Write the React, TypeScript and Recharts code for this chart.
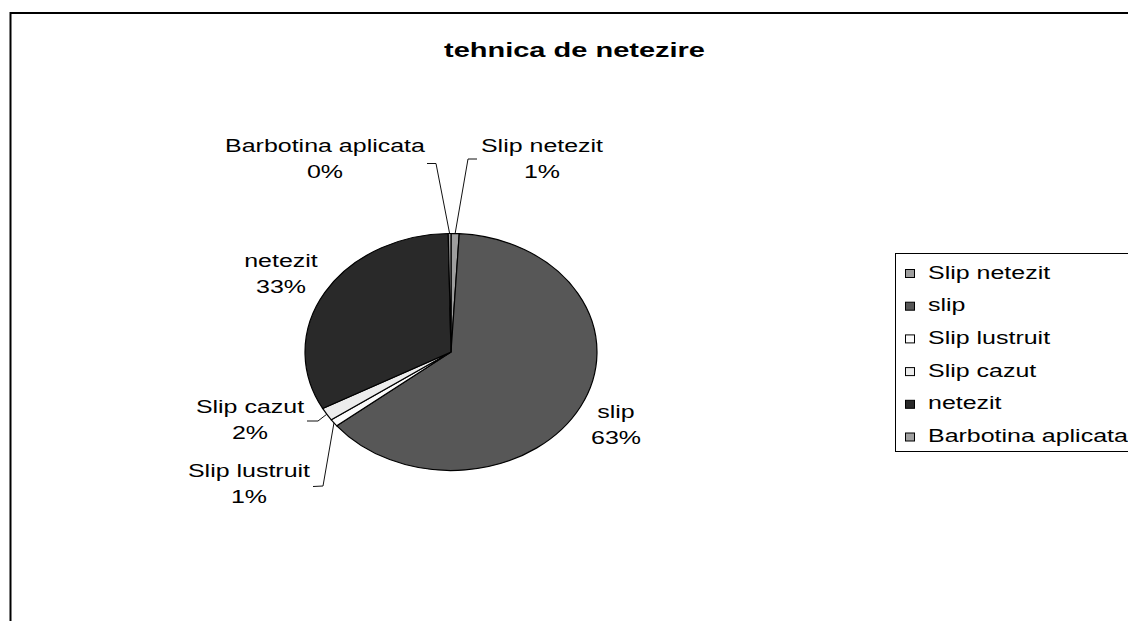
import React from 'react';
import { PieChart, Pie, Cell, Legend } from 'recharts';

// ---- data ----
const categories = ['Slip netezit', 'slip', 'Slip lustruit', 'Slip cazut', 'netezit', 'Barbotina aplicata'];
const shares = [0.9, 63.4, 1.0, 1.8, 32.6, 0.3];
const colors = ['#9e9e9e', '#575757', '#fbfbfb', '#ececec', '#292929', '#a0a0a0'];
const title = 'tehnica de netezire';

const data = categories.map((name, i) => ({ name, value: shares[i] }));

// ---- layout ----
const W = 1128;
const H = 621;
const FONT = '"Liberation Sans", Arial, sans-serif';
const PIE = { cx: 451, cy: 352, r: 118.5, sx: 1.232 };
const TEXT_SX = 1.35;
const LABEL_FS = 18.5;

type LabelLayout = { x: number; y: number; elbow?: [number, number]; end?: [number, number] };
const LABEL_LAYOUT: Record<string, LabelLayout> = {
  'Slip netezit': { x: 91, y: -200, elbow: [17, -193], end: [26, -193] },
  slip: { x: 165, y: 66 },
  'Slip lustruit': { x: -202, y: 125, elbow: [-128, 134], end: [-138, 134.5] },
  'Slip cazut': { x: -201, y: 61, elbow: [-133, 69], end: [-144, 69] },
  netezit: { x: -170, y: -85 },
  'Barbotina aplicata': { x: -126, y: -200, elbow: [-15, -188.5], end: [-24, -188.5] },
};

const renderLabel = (props: any) => {
  const { midAngle, percent, name } = props;
  const cx = PIE.cx;
  const cy = PIE.cy;
  const L = LABEL_LAYOUT[name];
  if (!L) return null;
  const rad = (midAngle * Math.PI) / 180;
  const ex = cx + PIE.r * PIE.sx * Math.cos(rad);
  const ey = cy - PIE.r * Math.sin(rad);
  const tx = cx + L.x;
  const ty = cy + L.y;
  const pct = Math.round(percent * 100) + '%';
  return (
    <g key={`lbl-${name}`}>
      {L.elbow && L.end && (
        <polyline
          points={`${ex},${ey} ${cx + L.elbow[0]},${cy + L.elbow[1]} ${cx + L.end[0]},${cy + L.end[1]}`}
          fill="none"
          stroke="#111"
          strokeWidth={1}
        />
      )}
      <text
        transform={`translate(${tx},${ty}) scale(${TEXT_SX},1)`}
        textAnchor="middle"
        fontFamily={FONT}
        fontSize={LABEL_FS}
        fill="#000"
      >
        <tspan x={0} y={0}>{name}</tspan>
        <tspan x={0} y={26}>{pct}</tspan>
      </text>
    </g>
  );
};

const renderLegend = (props: any) => {
  const payload = [...(props.payload || [])].sort(
    (a: any, b: any) => categories.indexOf(a.value) - categories.indexOf(b.value)
  );
  return (
    <svg width={240} height={197} style={{ display: 'block' }}>
      {payload.map((p: any, i: number) => {
        const idx = categories.indexOf(p.value);
        const c = idx >= 0 ? colors[idx] : p.color;
        const y = i * 32.7;
        return (
          <g key={`leg-${i}`}>
            <rect x={9.5} y={15.5 + y} width={9} height={8} fill={c} stroke="#000" strokeWidth={1} />
            <text
              transform={`translate(32, ${24.5 + y}) scale(${TEXT_SX},1)`}
              fontFamily={FONT}
              fontSize={LABEL_FS}
              fill="#000"
            >
              {p.value}
            </text>
          </g>
        );
      })}
    </svg>
  );
};

const css = `
.recharts-pie-sector { transform-origin: ${PIE.cx}px ${PIE.cy}px; transform: scaleX(${PIE.sx}); }
.recharts-pie-sector path { vector-effect: non-scaling-stroke; }
`;

export default function App() {
  return (
    <div
      style={{
        position: 'absolute',
        left: 0,
        top: 0,
        width: W,
        height: H,
        overflow: 'hidden',
        background: '#fff',
      }}
    >
      <style>{css}</style>
      <PieChart width={W} height={H} margin={{ top: 0, right: 0, bottom: 0, left: 0 }}>
        <Pie
          data={data}
          dataKey="value"
          nameKey="name"
          cx={PIE.cx}
          cy={PIE.cy}
          outerRadius={PIE.r}
          innerRadius={0}
          startAngle={90}
          endAngle={-270}
          stroke="#000"
          strokeWidth={1.2}
          label={renderLabel}
          labelLine={false}
          isAnimationActive={false}
        >
          {data.map((d, i) => (
            <Cell key={d.name} fill={colors[i]} />
          ))}
        </Pie>
        <Legend
          layout="vertical"
          align="right"
          verticalAlign="middle"
          content={renderLegend}
          wrapperStyle={{
            left: 895,
            top: 253,
            width: 242,
            height: 199,
            border: '1px solid #000',
            boxSizing: 'border-box',
            background: '#fff',
          }}
        />
      </PieChart>
      <svg
        width={W}
        height={H}
        style={{ position: 'absolute', left: 0, top: 0, pointerEvents: 'none' }}
      >
        <rect x={10.5} y={13} width={1200} height={700} fill="none" stroke="#000" strokeWidth={2} />
        <text
          x={444}
          y={56.5}
          textLength={261}
          lengthAdjust="spacingAndGlyphs"
          fontFamily={FONT}
          fontWeight="bold"
          fontSize={20.5}
          fill="#000"
        >
          {title}
        </text>
      </svg>
    </div>
  );
}
